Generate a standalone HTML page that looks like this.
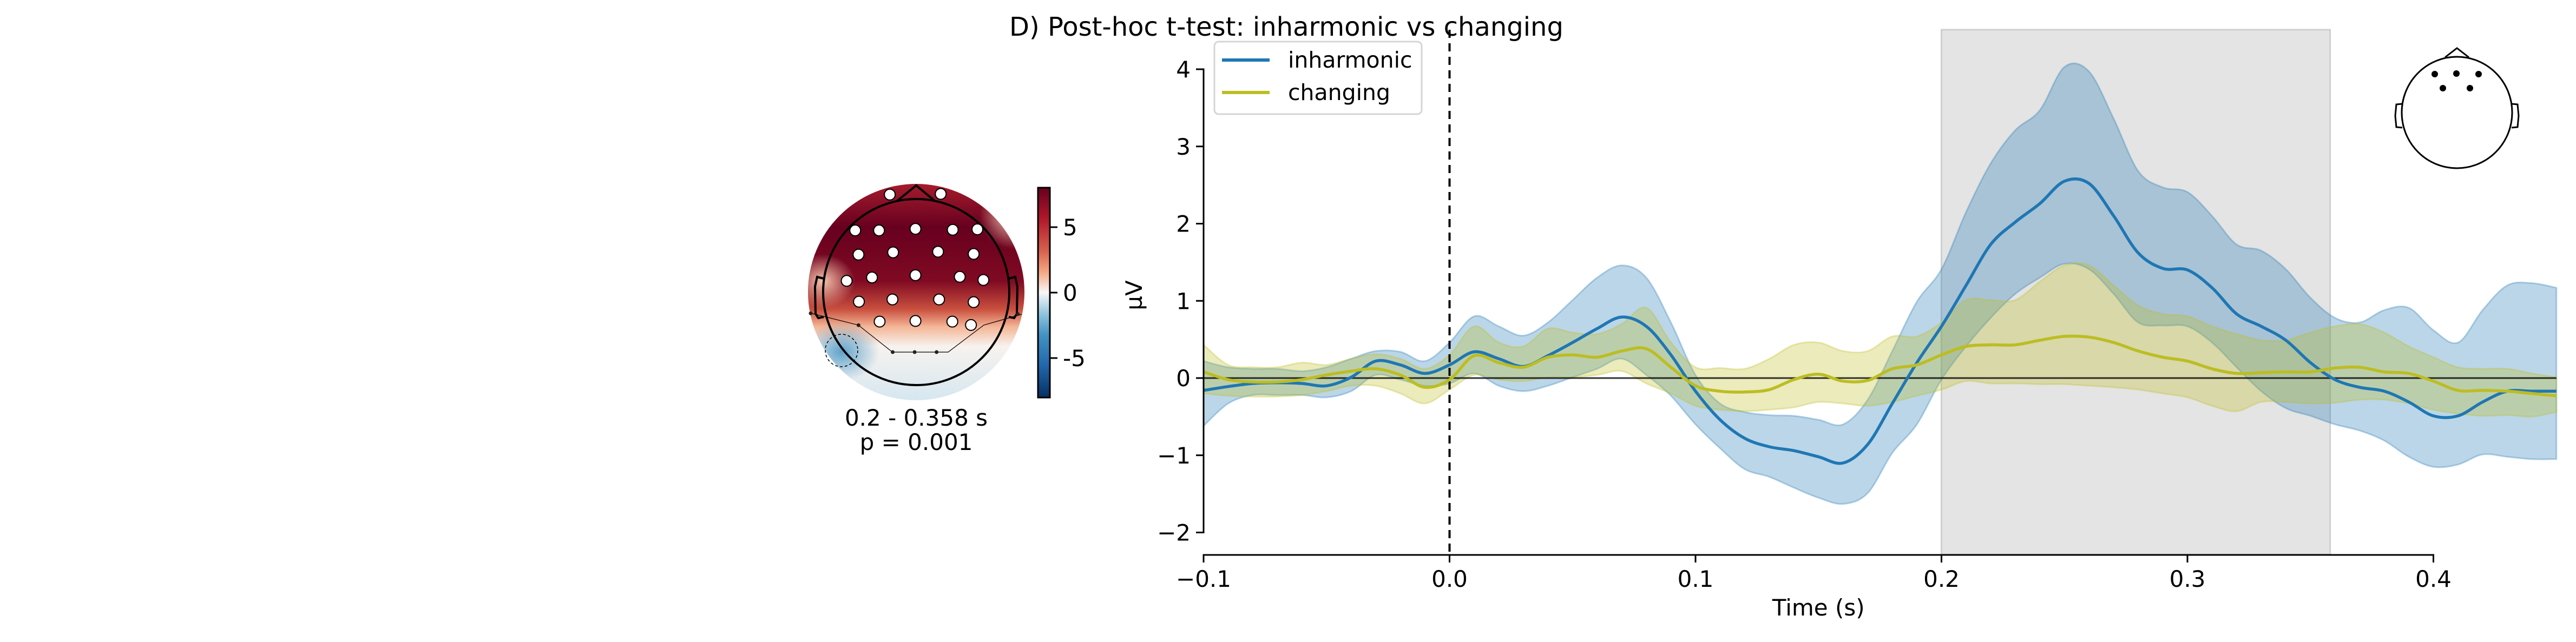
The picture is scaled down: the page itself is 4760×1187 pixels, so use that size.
<!DOCTYPE html>
<html><head><meta charset="utf-8"><style>
html,body{margin:0;padding:0;background:#fff;}
svg text{font-family:"DejaVu Sans","Liberation Sans",sans-serif;}
</style></head><body>
<svg id="fig" width="4760" height="1182" viewBox="0 0 4760 1182" xmlns="http://www.w3.org/2000/svg">
<defs>
 <clipPath id="topoClip"><circle cx="1693" cy="540" r="200"/></clipPath>
 <linearGradient id="topoGrad" x1="0" y1="0" x2="0" y2="1">
  <stop offset="0" stop-color="#a51c2c"/>
  <stop offset="0.2" stop-color="#67001f"/>
  <stop offset="0.45" stop-color="#800a22"/>
  <stop offset="0.58" stop-color="#c9503f"/>
  <stop offset="0.66" stop-color="#f4b596"/>
  <stop offset="0.75" stop-color="#f7f2ee"/>
  <stop offset="1" stop-color="#d6e7f0"/>
 </linearGradient>
 <radialGradient id="blueBlob"><stop offset="0" stop-color="#5fa2cb"/><stop offset="1" stop-color="#5fa2cb" stop-opacity="0"/></radialGradient>
 <radialGradient id="lightR"><stop offset="0" stop-color="#f6c6ad"/><stop offset="1" stop-color="#f6c6ad" stop-opacity="0"/></radialGradient>
 <linearGradient id="cbGrad" x1="0" y1="1" x2="0" y2="0">
  <stop offset="0" stop-color="#053061"/><stop offset="0.15" stop-color="#2166ac"/>
  <stop offset="0.3" stop-color="#4393c3"/><stop offset="0.4" stop-color="#92c5de"/>
  <stop offset="0.5" stop-color="#f7f7f7"/><stop offset="0.6" stop-color="#f4a582"/>
  <stop offset="0.7" stop-color="#d6604d"/><stop offset="0.85" stop-color="#b2182b"/>
  <stop offset="1" stop-color="#67001f"/>
 </linearGradient>
</defs>

<!-- Topomap -->
<g>
 <g clip-path="url(#topoClip)">
  <rect x="1493" y="340" width="400" height="400" fill="url(#topoGrad)"/>
  <ellipse cx="1520" cy="520" rx="60" ry="50" fill="url(#lightR)"/>
  <ellipse cx="1870" cy="400" rx="60" ry="60" fill="url(#lightR)"/>
  <ellipse cx="1555" cy="650" rx="70" ry="55" fill="url(#blueBlob)"/>
 </g>
 <ellipse cx="1555" cy="648" rx="30" ry="30" fill="none" stroke="#000" stroke-width="1.5" stroke-dasharray="5,4"/>
 <circle cx="1693" cy="540" r="172" fill="none" stroke="#000" stroke-width="4"/>
 <polyline points="1657,372 1693,343 1728,372" fill="none" stroke="#000" stroke-width="4"/>
 <path d="M1522,515 L1510,512 L1506,530 L1507,580 L1512,588 L1522,586" fill="none" stroke="#000" stroke-width="4"/>
 <path d="M1864,515 L1876,512 L1880,530 L1879,580 L1874,588 L1864,586" fill="none" stroke="#000" stroke-width="4"/>
 <polyline points="1498,579 1586,601 1649,651 1752,651 1818,601 1888,581" fill="none" stroke="#000" stroke-width="1.2"/>
 <g id="elecs"></g>
 <g>
  <rect x="1918" y="347" width="22" height="388" fill="url(#cbGrad)" stroke="#000" stroke-width="3"/>
  <line x1="1940" y1="420" x2="1954" y2="420" stroke="#000" stroke-width="3"/>
  <line x1="1940" y1="541" x2="1954" y2="541" stroke="#000" stroke-width="3"/>
  <line x1="1940" y1="662" x2="1954" y2="662" stroke="#000" stroke-width="3"/>
  <text x="1964" y="435" font-size="42">5</text>
  <text x="1964" y="556" font-size="42">0</text>
  <text x="1964" y="677" font-size="42">-5</text>
 </g>
 <text x="1693" y="787" font-size="42" text-anchor="middle">0.2 - 0.358 s</text>
 <text x="1693" y="832" font-size="42" text-anchor="middle">p = 0.001</text>
</g>

<text x="2377" y="66" font-size="48" text-anchor="middle">D) Post-hoc t-test: inharmonic vs changing</text>

<g id="plot"></g>

<!-- inset head -->
<g>
 <ellipse cx="4540" cy="208" rx="102" ry="103" fill="#fff" stroke="#000" stroke-width="3"/>
 <polyline points="4518,106 4540,89 4562,106" fill="none" stroke="#000" stroke-width="3"/>
 <path d="M4439,192 L4428,193 L4426,214 L4428,235 L4439,236" fill="none" stroke="#000" stroke-width="3"/>
 <path d="M4641,192 L4652,193 L4654,214 L4652,235 L4641,236" fill="none" stroke="#000" stroke-width="3"/>
 <circle cx="4499" cy="137" r="6"/><circle cx="4539" cy="136" r="6"/><circle cx="4580" cy="137" r="6"/>
 <circle cx="4514" cy="163" r="6"/><circle cx="4564" cy="163" r="6"/>
</g>

<!-- legend -->
<g>
 <rect x="2244" y="77" width="383" height="134" rx="8" fill="#fff" fill-opacity="0.8" stroke="#d5d5d5" stroke-width="3"/>
 <g>
  <line x1="2258" y1="111" x2="2346" y2="111" stroke="#1f77b4" stroke-width="6"/>
  <text x="2380" y="125" font-size="41">inharmonic</text>
 </g>
 <g>
  <line x1="2258" y1="171" x2="2346" y2="171" stroke="#bcbd22" stroke-width="6"/>
  <text x="2380" y="185" font-size="41">changing</text>
 </g>
</g>
</svg>
<script>
const times = [-0.1,-0.09,-0.08,-0.07,-0.06,-0.05,-0.04,-0.03,-0.02,-0.01,0,0.01,0.02,0.03,0.04,0.05,0.06,0.07,0.08,0.09,0.1,0.11,0.12,0.13,0.14,0.15,0.16,0.17,0.18,0.19,0.2,0.21,0.22,0.23,0.24,0.25,0.26,0.27,0.28,0.29,0.3,0.31,0.32,0.33,0.34,0.35,0.36,0.37,0.38,0.39,0.4,0.41,0.42,0.43,0.44,0.45];
const inhMean = [-0.16,-0.11,-0.07,-0.06,-0.07,-0.1,0.01,0.22,0.17,0.06,0.17,0.34,0.25,0.15,0.29,0.46,0.64,0.79,0.67,0.3,-0.17,-0.54,-0.78,-0.89,-0.94,-1.02,-1.1,-0.86,-0.33,0.2,0.67,1.2,1.73,2.02,2.26,2.55,2.52,2.1,1.62,1.42,1.4,1.17,0.83,0.67,0.49,0.2,-0.02,-0.12,-0.17,-0.31,-0.49,-0.49,-0.31,-0.17,-0.17,-0.17];
const inhUpper = [0.22,0.14,0.12,0.12,0.09,0.14,0.25,0.35,0.34,0.22,0.46,0.8,0.67,0.55,0.72,1.01,1.3,1.46,1.3,0.72,0.04,-0.33,-0.44,-0.48,-0.49,-0.54,-0.6,-0.28,0.35,0.99,1.41,2.15,2.78,3.21,3.47,4.03,3.97,3.36,2.68,2.47,2.41,2.1,1.73,1.65,1.41,1.04,0.78,0.72,0.88,0.91,0.62,0.46,0.88,1.2,1.23,1.17];
const inhLower = [-0.62,-0.33,-0.22,-0.22,-0.22,-0.25,-0.17,0.04,-0.02,-0.1,-0.07,0.06,-0.1,-0.17,-0.1,0.01,0.12,0.25,0.04,-0.23,-0.6,-0.91,-1.18,-1.28,-1.42,-1.55,-1.63,-1.49,-0.97,-0.6,-0.02,0.41,0.78,1.09,1.3,1.48,1.41,1.09,0.72,0.68,0.67,0.46,0.14,-0.17,-0.39,-0.49,-0.6,-0.68,-0.81,-1.02,-1.15,-1.12,-0.99,-1.02,-1.05,-1.05];
const chgMean = [0.08,-0.02,-0.05,-0.05,-0.02,0.04,0.09,0.12,0.04,-0.12,-0.02,0.29,0.2,0.14,0.27,0.3,0.27,0.35,0.38,0.14,-0.1,-0.17,-0.18,-0.15,-0.02,0.05,-0.04,-0.03,0.12,0.17,0.3,0.41,0.43,0.43,0.49,0.54,0.53,0.46,0.35,0.27,0.22,0.12,0.06,0.07,0.08,0.08,0.13,0.14,0.08,0.06,-0.04,-0.16,-0.16,-0.17,-0.2,-0.23];
const chgUpper = [0.43,0.17,0.14,0.14,0.2,0.17,0.25,0.31,0.25,0.12,0.3,0.67,0.46,0.41,0.64,0.59,0.57,0.7,0.91,0.46,0.14,0.13,0.12,0.25,0.43,0.46,0.35,0.35,0.54,0.54,0.72,1.01,1.01,1.01,1.25,1.46,1.46,1.2,0.94,0.83,0.8,0.67,0.57,0.49,0.49,0.59,0.67,0.7,0.59,0.41,0.27,0.14,0.12,0.12,0.06,0.01];
const chgLower = [-0.2,-0.23,-0.24,-0.24,-0.22,-0.17,-0.1,-0.1,-0.2,-0.33,-0.15,0.04,-0.02,-0.04,0.01,0.01,0.04,0.09,-0.07,-0.2,-0.36,-0.41,-0.43,-0.41,-0.38,-0.31,-0.33,-0.36,-0.31,-0.23,-0.15,-0.04,-0.07,-0.07,-0.08,-0.08,-0.1,-0.12,-0.15,-0.2,-0.25,-0.36,-0.43,-0.31,-0.31,-0.33,-0.32,-0.28,-0.28,-0.33,-0.41,-0.46,-0.49,-0.48,-0.5,-0.44];
const xTicks = [-0.1,0,0.1,0.2,0.3,0.4];
const xTickLabels = ["\u22120.1","0.0","0.1","0.2","0.3","0.4"];
const yTicks = [-2,-1,0,1,2,3,4];
const yTickLabels = ["\u22122","\u22121","0","1","2","3","4"];
const sigWindow = [0.2,0.358];

const NS="http://www.w3.org/2000/svg";
const X0=2224, PX=4545; // pixels per second
const Y0=699, PY=142.75;
const xs=t=>X0+(t+0.1)*PX;
const ys=v=>Y0-v*PY;
const plot=document.getElementById('plot');
function mk(tag,attrs,parent){const e=document.createElementNS(NS,tag);for(const k in attrs)e.setAttribute(k,attrs[k]);(parent||plot).appendChild(e);return e;}
function smooth(pts){let d='';for(let i=0;i<pts.length;i++){const p=pts[i];if(i===0){d+='M'+p[0].toFixed(1)+','+p[1].toFixed(1);continue;}const p0=pts[i-2]||pts[i-1],p1=pts[i-1],p3=pts[i+1]||p;const c1=[p1[0]+(p[0]-p0[0])/6,p1[1]+(p[1]-p0[1])/6],c2=[p[0]-(p3[0]-p1[0])/6,p[1]-(p3[1]-p1[1])/6];d+='C'+c1.map(v=>v.toFixed(1))+' '+c2.map(v=>v.toFixed(1))+' '+p[0].toFixed(1)+','+p[1].toFixed(1);}return d;}
function bandPath(up,lo){const a=times.map((t,i)=>[xs(t),ys(up[i])]);const b=times.map((t,i)=>[xs(t),ys(lo[i])]).reverse();let d=smooth(a);d+=smooth(b).replace(/^M/,'L');return d+'Z';}

const span=mk('rect',{x:xs(sigWindow[0]),y:55,width:xs(sigWindow[1])-xs(sigWindow[0]),height:1025-55,fill:'#e4e4e4',stroke:'#cfcfcf','stroke-width':3});



const b1=mk('path',{d:bandPath(inhUpper,inhLower),fill:'#1f77b4','fill-opacity':0.3,stroke:'#1f77b4','stroke-opacity':0.3,'stroke-width':3});


const b2=mk('path',{d:bandPath(chgUpper,chgLower),fill:'#bcbd22','fill-opacity':0.3,stroke:'#bcbd22','stroke-opacity':0.3,'stroke-width':3});



const zl=mk('line',{x1:xs(-0.1),x2:xs(0.45),y1:ys(0),y2:ys(0),stroke:'#000','stroke-width':3,'stroke-opacity':0.8});


const vl=mk('line',{x1:xs(0),x2:xs(0),y1:55,y2:1025,stroke:'#000','stroke-width':4,'stroke-dasharray':'15,10'});



const l1=mk('path',{d:smooth(times.map((t,i)=>[xs(t),ys(inhMean[i])])),fill:'none',stroke:'#1f77b4','stroke-width':5.5});


const l2=mk('path',{d:smooth(times.map((t,i)=>[xs(t),ys(chgMean[i])])),fill:'none',stroke:'#bcbd22','stroke-width':5.5});



const xa=mk('g',{});


mk('line',{x1:xs(-0.1)-1.5,x2:xs(0.4)+1.5,y1:1026,y2:1026,stroke:'#000','stroke-width':3},xa);
xTicks.forEach((t,i)=>{mk('line',{x1:xs(t),x2:xs(t),y1:1026,y2:1040,stroke:'#000','stroke-width':3},xa);const tx=mk('text',{x:xs(t),y:1085,'font-size':42,'text-anchor':'middle'},xa);tx.textContent=xTickLabels[i];

});
const xl=mk('text',{x:xs(0.15),y:1138,'font-size':42,'text-anchor':'middle'},xa);xl.textContent='Time (s)';



const ya=mk('g',{});


mk('line',{x1:X0,x2:X0,y1:ys(4)-1.5,y2:ys(-2)+1.5,stroke:'#000','stroke-width':3},ya);
yTicks.forEach((v,i)=>{mk('line',{x1:X0-14,x2:X0,y1:ys(v),y2:ys(v),stroke:'#000','stroke-width':3},ya);const tx=mk('text',{x:X0-24,y:ys(v)+15,'font-size':42,'text-anchor':'end'},ya);tx.textContent=yTickLabels[i];

});
const yl=mk('text',{x:2110,y:546,'font-size':42,'text-anchor':'middle',transform:'rotate(-90 2110 546)'},ya);yl.textContent='\u00b5V';



// electrodes
const eg=document.getElementById('elecs');
const elecPts=[[638,265],[884,262],[471,425],[586,425],[762,418],[942,422],[1061,420],[487,533],[654,523],[871,520],[1043,530],[430,650],[552,635],[762,625],[976,632],[1090,646],[489,743],[651,733],[876,733],[1043,745],[589,832],[762,829],[940,832],[1030,847]];
elecPts.forEach(p=>{const c=mk('circle',{cx:1400+p[0]/2.613,cy:250+p[1]/2.414,r:10,fill:'#fff',stroke:'#000','stroke-width':2},eg);

});
[[256,795],[487,848],[652,968],[758,968],[864,968],[1256,798]].forEach(p=>{mk('circle',{cx:1400+p[0]/2.613,cy:250+p[1]/2.414,r:3.5,fill:'#222'},eg);});
</script>
</body></html>
